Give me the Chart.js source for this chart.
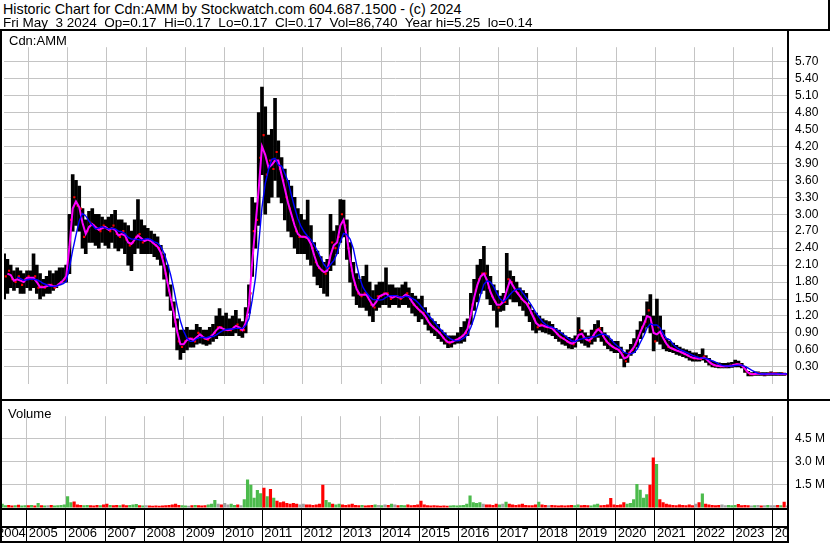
<!DOCTYPE html>
<html><head><meta charset="utf-8">
<script src="https://cdn.jsdelivr.net/npm/chart.js@4"></script>
<style>
html,body{margin:0;padding:0;background:#fff;}
#wrap{position:relative;width:830px;height:543px;overflow:hidden;background:#fff;font-family:'Liberation Sans',Arial,sans-serif;color:#000;}
.t{position:absolute;white-space:pre;line-height:1;}
.ln{position:absolute;background:#000;}
canvas{position:absolute;}
</style></head><body>
<div id="wrap">
<canvas id="pc" width="830" height="367" style="left:0;top:32px;width:830px;height:367px"></canvas>
<canvas id="vc" width="830" height="142" style="left:0;top:401px;width:830px;height:142px"></canvas>
<div style="position:absolute;left:789px;top:508px;width:41px;height:35px;background:#fff"></div>
<div class="t" style="left:3px;top:1.5px;font-size:14.3px">Historic Chart for Cdn:AMM by Stockwatch.com 604.687.1500 - (c) 2024</div>
<div class="t" style="left:3px;top:15.5px;font-size:13.5px">Fri May  3 2024  Op=0.17  Hi=0.17  Lo=0.17  Cl=0.17  Vol=86,740  Year hi=5.25  lo=0.14</div>
<div class="t" style="left:9px;top:34px;font-size:13px">Cdn:AMM</div>
<div class="t" style="left:8px;top:407px;font-size:13px">Volume</div>
<div class="ln" style="left:0;top:29px;width:830px;height:2px"></div>
<div class="ln" style="left:828px;top:0;width:2px;height:31px"></div>
<div class="ln" style="left:0;top:29px;width:2px;height:514px"></div>
<div class="ln" style="left:787px;top:29px;width:2px;height:514px"></div>
<div class="ln" style="left:0;top:399px;width:830px;height:2px"></div>
<div class="ln" style="left:0;top:508px;width:789px;height:2px"></div>
<div class="ln" style="left:0;top:526px;width:789px;height:2px"></div>
<div class="ln" style="left:0;top:541px;width:789px;height:2px"></div>
</div>
<script>
// Monthly data, May 2004 .. May 2024
const yearLabels = ['2004','2005','2006','2007','2008','2009','2010','2011','2012','2013','2014','2015','2016','2017','2018','2019','2020','2021','2022','2023','2024'];
const priceTicks = [0.3,0.6,0.9,1.2,1.5,1.8,2.1,2.4,2.7,3.0,3.3,3.6,3.9,4.2,4.5,4.8,5.1,5.4,5.7];
const volTicks = [1.5,3.0,4.5];

const hi = [
 2.3,2.2,2.1,2.0,2.05,2.0,1.95,2.0,
 2.0,2.3,2.1,1.95,1.85,1.9,2.0,1.95,2.0,2.05,2.05,2.1,
 3.0,3.7,3.6,3.5,3.1,2.9,3.05,3.1,3.0,3.0,2.95,2.9,
 2.95,3.0,3.07,2.9,2.9,2.85,2.8,2.7,2.9,3.26,2.9,2.8,
 2.75,2.7,2.65,2.6,2.45,2.3,2.1,1.75,1.45,1.15,0.95,0.95,
 1.0,0.95,0.95,1.05,1.0,0.95,0.95,1.0,1.05,1.2,1.33,1.2,
 1.25,1.15,1.2,1.3,1.15,1.1,1.35,1.75,3.3,3.2,4.8,5.25,
 4.9,4.4,4.5,5.05,4.3,4.0,3.8,3.6,3.5,3.3,3.1,3.0,
 2.9,3.25,2.8,2.5,2.35,2.25,2.15,2.2,3.0,2.7,2.8,3.26,
 3.25,2.9,2.5,2.15,1.95,1.85,1.9,2.1,1.8,1.65,1.75,1.8,
 1.8,2.05,1.75,1.75,1.7,1.7,1.75,1.8,1.7,1.6,1.55,1.5,
 1.55,1.35,1.25,1.15,1.1,1.05,0.95,0.9,0.85,0.85,0.85,0.9,
 1.0,1.1,1.15,1.6,1.85,2.1,2.2,2.43,2.1,1.9,1.75,1.65,
 1.55,1.6,2.31,2.0,1.9,1.8,1.7,1.65,1.6,1.4,1.3,1.25,
 1.2,1.15,1.12,1.1,1.05,0.98,0.95,0.9,0.85,0.82,0.8,0.85,
 1.17,0.95,0.9,0.85,0.95,1.05,1.12,1.0,0.9,0.85,0.78,0.75,
 0.75,0.65,0.55,0.6,0.7,0.8,0.95,1.1,1.2,1.45,1.58,1.2,
 1.5,1.2,0.95,0.8,0.75,0.72,0.68,0.65,0.62,0.6,0.58,0.55,
 0.55,0.52,0.62,0.5,0.45,0.4,0.38,0.37,0.36,0.36,0.37,0.38,
 0.42,0.4,0.36,0.3,0.22,0.2,0.21,0.21,0.2,0.2,0.2,0.21,
 0.2,0.2,0.2,0.19,0.17
];
const lo = [
 1.5,1.6,1.7,1.65,1.7,1.6,1.6,1.7,
 1.65,1.7,1.6,1.5,1.55,1.6,1.6,1.65,1.7,1.75,1.8,1.8,
 1.95,2.7,2.8,2.7,2.4,2.3,2.5,2.5,2.45,2.4,2.5,2.45,
 2.4,2.5,2.4,2.35,2.4,2.3,2.1,2.0,2.3,2.4,2.3,2.3,
 2.3,2.3,2.25,2.2,2.1,1.85,1.55,1.3,1.0,0.6,0.43,0.55,
 0.6,0.65,0.65,0.7,0.72,0.7,0.68,0.7,0.75,0.8,0.85,0.85,
 0.85,0.85,0.85,0.9,0.85,0.82,0.9,1.25,1.9,2.4,2.8,3.7,
 3.0,3.2,3.3,3.6,3.3,3.2,2.9,2.7,2.6,2.4,2.3,2.3,
 2.3,2.2,2.1,1.9,1.75,1.7,1.6,1.55,2.0,2.1,2.3,2.5,
 2.6,2.2,1.8,1.55,1.4,1.35,1.35,1.3,1.2,1.1,1.3,1.35,
 1.4,1.4,1.35,1.4,1.4,1.35,1.4,1.4,1.35,1.25,1.2,1.1,
 1.15,1.05,0.95,0.9,0.85,0.8,0.75,0.7,0.64,0.65,0.7,0.72,
 0.72,0.75,0.85,1.05,1.3,1.45,1.6,1.65,1.5,1.4,1.3,1.0,
 1.28,1.3,1.4,1.5,1.45,1.45,1.38,1.3,1.2,1.1,0.95,0.9,
 0.95,0.92,0.9,0.88,0.85,0.8,0.75,0.7,0.68,0.63,0.62,0.65,
 0.75,0.72,0.68,0.65,0.7,0.75,0.82,0.75,0.68,0.62,0.58,0.55,
 0.55,0.45,0.3,0.38,0.5,0.55,0.65,0.8,0.9,1.0,0.9,0.58,
 0.75,0.7,0.62,0.58,0.57,0.55,0.52,0.5,0.48,0.46,0.42,0.4,
 0.4,0.4,0.42,0.38,0.33,0.3,0.29,0.28,0.28,0.28,0.28,0.29,
 0.3,0.3,0.28,0.2,0.14,0.14,0.15,0.15,0.15,0.14,0.15,0.15,
 0.15,0.15,0.15,0.15,0.17
];
const cl = [
 1.9,2.0,1.85,1.8,1.9,1.75,1.85,1.9,
 1.85,1.9,1.7,1.72,1.7,1.75,1.75,1.7,1.75,1.8,1.85,1.95,
 2.9,3.3,3.15,3.1,2.6,2.7,2.85,2.8,2.75,2.7,2.8,2.75,
 2.7,2.8,2.65,2.6,2.7,2.55,2.45,2.5,2.6,2.65,2.5,2.55,
 2.55,2.5,2.45,2.4,2.25,1.95,1.65,1.4,1.1,0.75,0.65,0.75,
 0.8,0.8,0.75,0.9,0.85,0.8,0.78,0.85,0.9,1.0,1.0,0.95,
 0.95,0.95,1.0,1.05,0.95,0.95,1.2,1.6,2.7,2.9,4.0,4.4,
 3.7,3.95,3.8,4.1,3.8,3.6,3.3,3.1,2.9,2.7,2.6,2.6,
 2.6,2.55,2.4,2.15,2.05,2.0,1.95,2.05,2.5,2.4,2.6,3.0,
 2.8,2.4,2.0,1.75,1.6,1.55,1.6,1.55,1.4,1.35,1.55,1.55,
 1.6,1.6,1.5,1.55,1.55,1.5,1.55,1.6,1.5,1.4,1.35,1.28,
 1.25,1.15,1.05,1.0,0.95,0.9,0.82,0.75,0.72,0.75,0.78,0.8,
 0.85,0.9,1.05,1.4,1.65,1.85,1.95,1.95,1.7,1.55,1.45,1.35,
 1.45,1.45,1.85,1.8,1.65,1.6,1.5,1.45,1.4,1.25,1.15,1.0,
 1.05,1.02,1.0,1.0,0.95,0.88,0.82,0.8,0.75,0.72,0.7,0.78,
 0.95,0.82,0.78,0.75,0.85,0.95,0.98,0.85,0.75,0.7,0.65,0.62,
 0.6,0.5,0.4,0.55,0.6,0.7,0.85,1.0,1.1,1.3,1.05,0.75,
 1.0,0.85,0.75,0.65,0.63,0.6,0.58,0.56,0.53,0.5,0.47,0.45,
 0.45,0.44,0.48,0.42,0.36,0.33,0.32,0.31,0.31,0.31,0.32,0.33,
 0.35,0.34,0.31,0.22,0.17,0.17,0.18,0.18,0.17,0.17,0.18,0.18,
 0.18,0.17,0.18,0.17,0.17
];
// volume, millions of shares
const vol = [
 0.2,0.1,0.12,0.08,0.1,0.13,0.08,0.1,
 0.1,0.12,0.08,0.25,0.1,0.08,0.1,0.12,0.09,0.1,0.12,0.15,
 0.7,0.3,0.35,0.15,0.12,0.1,0.12,0.1,0.08,0.12,0.1,0.15,
 0.2,0.12,0.1,0.12,0.1,0.15,0.1,0.12,0.15,0.18,0.1,0.08,
 0.1,0.08,0.06,0.08,0.07,0.08,0.1,0.12,0.15,0.2,0.12,0.1,
 0.08,0.07,0.1,0.12,0.1,0.08,0.1,0.15,0.2,0.45,0.2,0.15,
 0.25,0.15,0.2,0.12,0.15,0.1,0.5,1.8,1.45,0.6,1.1,0.9,
 1.26,0.7,1.18,0.6,0.4,0.3,0.35,0.25,0.2,0.25,0.2,0.15,
 0.2,0.15,0.15,0.12,0.15,0.2,1.45,0.45,0.3,0.2,0.15,0.2,
 0.15,0.12,0.15,0.2,0.12,0.1,0.12,0.08,0.1,0.12,0.15,0.12,
 0.1,0.15,0.12,0.2,0.15,0.1,0.12,0.1,0.15,0.1,0.12,0.15,
 0.4,0.15,0.1,0.08,0.1,0.08,0.06,0.08,0.07,0.08,0.1,0.08,
 0.1,0.12,0.2,0.75,0.3,0.25,0.3,0.2,0.15,0.15,0.12,0.2,
 0.15,0.2,0.33,0.2,0.15,0.12,0.15,0.2,0.12,0.1,0.1,0.15,
 0.33,0.15,0.12,0.1,0.12,0.1,0.08,0.1,0.08,0.1,0.12,0.1,
 0.15,0.1,0.12,0.1,0.08,0.15,0.2,0.1,0.12,0.15,0.58,0.15,
 0.12,0.15,0.3,0.2,0.25,0.5,1.5,1.12,0.6,0.83,1.45,3.26,
 2.82,0.5,0.3,0.2,0.15,0.12,0.1,0.15,0.12,0.1,0.15,0.1,
 0.2,0.3,0.87,0.2,0.15,0.12,0.1,0.12,0.15,0.1,0.12,0.1,
 0.12,0.18,0.1,0.12,0.1,0.08,0.1,0.12,0.08,0.1,0.12,0.1,
 0.1,0.12,0.1,0.33,0.09
];

const T0 = 2004.371, T1 = 2024.364;
const tx = cl.map((_, i) => 2004 + (4 + i + 0.5) / 12);
const yearVals = yearLabels.map(Number);

function sma(a, n){ return a.map((_, i) => i < n - 1 ? null : a.slice(i - n + 1, i + 1).reduce((s, v) => s + v, 0) / n); }
const maFast = sma(cl, 2), maSlow = sma(cl, 5);

Chart.defaults.font.family = "'Liberation Sans', Arial, sans-serif";
Chart.defaults.color = '#000';
const GRID = '#c4c4c4';

new Chart(document.getElementById('pc'), {
  type: 'bar',
  data: { datasets: [
    { type:'bar', data: tx.map((t,i)=>({x:t, y:[lo[i], hi[i]]})), backgroundColor:'#000', borderWidth:0, barThickness:3, order:4 },
    { type:'line', data: tx.map((t,i)=>({x:t + 1/24, y:cl[i]})), showLine:false, pointStyle:'rect', pointRadius:1.5, pointBackgroundColor:'#ff0000', pointBorderWidth:0, order:3 },
    { type:'line', data: tx.map((t,i)=>({x:t, y:maFast[i]})), borderColor:'#ff00ff', borderWidth:2, pointRadius:0, order:2 },
    { type:'line', data: tx.map((t,i)=>({x:t, y:maSlow[i]})), borderColor:'#0000ff', borderWidth:1.4, pointRadius:0, order:1 }
  ]},
  options: {
    responsive:false, animation:false, devicePixelRatio:1,
    layout:{ padding:{ left:2, top:0, right:0, bottom:0 } },
    plugins:{ legend:{display:false}, tooltip:{enabled:false} },
    scales:{
      x:{ type:'linear', min:T0, max:T1, offset:false,
          afterBuildTicks: s => { s.ticks = yearVals.filter(v => v > T0 && v < T1).map(v => ({value:v})); },
          ticks:{ display:false }, grid:{ color:GRID, drawTicks:false, offset:false }, border:{ display:false },
          afterFit: s => { s.height = 0; } },
      y:{ position:'right', min:0, max:5.955,
          afterBuildTicks: s => { s.ticks = priceTicks.map(v => ({value:v})); },
          ticks:{ padding:8, font:{size:12}, color:'#000', callback: v => Number(v).toFixed(2) },
          grid:{ color:GRID, drawTicks:false }, border:{ display:false },
          afterFit: s => { s.width = 43; } }
    }
  }
});

const volColors = cl.map((c, i) => i === 0 ? '#4cbb4c' : (c > cl[i-1] ? '#4cbb4c' : (c < cl[i-1] ? '#ff0000' : '#a0a0a0')));

new Chart(document.getElementById('vc'), {
  type: 'bar',
  data: { datasets: [
    { data: tx.map((t,i)=>({x:t, y:vol[i]})), backgroundColor: volColors, borderWidth:0, barThickness:2.5 }
  ]},
  options: {
    responsive:false, animation:false, devicePixelRatio:1,
    layout:{ padding:{ left:2, top:1, right:0, bottom:0 } },
    plugins:{ legend:{display:false}, tooltip:{enabled:false} },
    scales:{
      x:{ type:'linear', min:T0, max:T1, offset:false,
          afterBuildTicks: s => { s.ticks = [{value: T0 - 0.18}].concat(yearVals.filter(v => v > T0 && v < T1).map(v => ({value:v}))); },
          ticks:{ autoSkip:false, maxRotation:0, minRotation:0, align:'start', labelOffset:2, padding:-16, font:{size:13}, color:'#000',
                  callback: (v, i) => yearLabels[i] },
          grid:{ color:GRID, tickColor:'#000', tickLength:34, drawTicks:true, tickWidth:1, offset:false },
          border:{ display:false },
          afterFit: s => { s.height = 35; } },
      y:{ position:'right', min:-0.06, max:6,
          afterBuildTicks: s => { s.ticks = volTicks.map(v => ({value:v})); },
          ticks:{ padding:8, font:{size:12}, color:'#000', callback: v => Number(v).toFixed(1) + ' M' },
          grid:{ color:GRID, drawTicks:false }, border:{ display:false },
          afterFit: s => { s.width = 43; } }
    }
  }
});
</script>
</body></html>
